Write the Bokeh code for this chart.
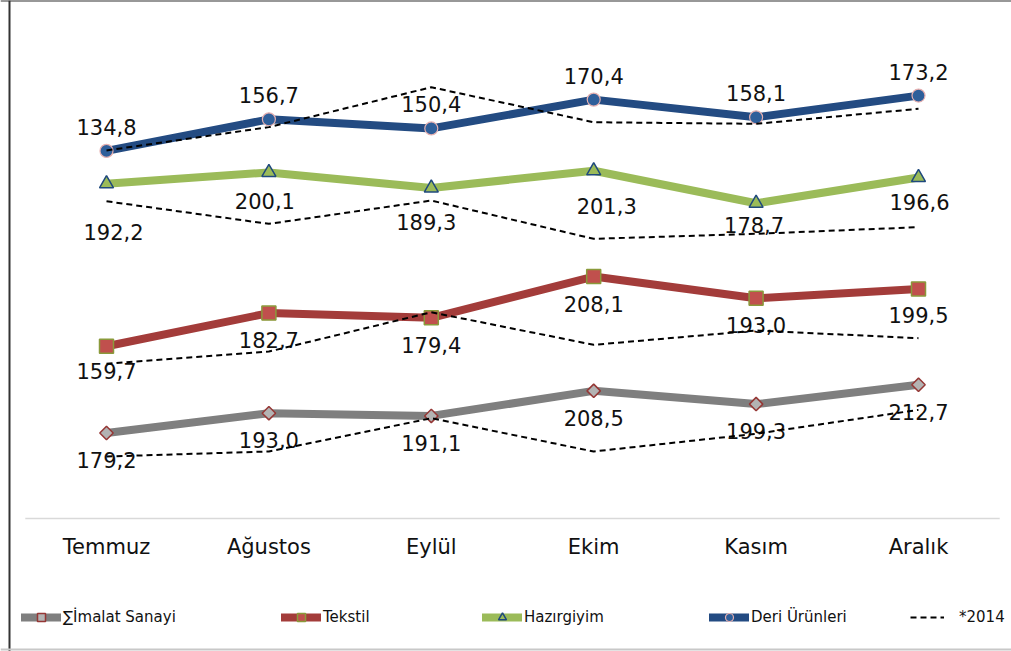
from bokeh.plotting import figure
from bokeh.models import Range1d, Legend, LegendItem, Span
from bokeh.core.properties import value
from bokeh.embed import file_html
from bokeh.resources import INLINE

# ---------------- data ----------------
months = ["Temmuz", "Ağustos", "Eylül", "Ekim", "Kasım", "Aralık"]

imalat_2015 = [179.2, 193.0, 191.1, 208.5, 199.3, 212.7]
tekstil_2015 = [159.7, 182.7, 179.4, 208.1, 193.0, 199.5]
hazir_2015 = [192.2, 200.1, 189.3, 201.3, 178.7, 196.6]
deri_2015 = [134.8, 156.7, 150.4, 170.4, 158.1, 173.2]

imalat_2014 = [162.9, 166.4, 189.5, 166.4, 178.7, 195.3]
tekstil_2014 = [147.5, 156.0, 183.3, 160.7, 170.6, 165.3]
hazir_2014 = [180.1, 164.4, 180.6, 154.0, 157.5, 162.1]
deri_2014 = [135.1, 151.3, 179.0, 154.7, 153.6, 164.0]

labels_2015 = {
    "imalat": ["179,2", "193,0", "191,1", "208,5", "199,3", "212,7"],
    "tekstil": ["159,7", "182,7", "179,4", "208,1", "193,0", "199,5"],
    "hazir": ["192,2", "200,1", "189,3", "201,3", "178,7", "196,6"],
    "deri": ["134,8", "156,7", "150,4", "170,4", "158,1", "173,2"],
}

# ---------------- layout ----------------
W, H = 1011, 651
K = 1.44            # pixels per index unit
X0, STEP = 106, 162.4
FONT = "DejaVu Sans"

xs = list(range(len(months)))

p = figure(width=W, height=H,
           x_range=Range1d(-X0 / STEP, (W - X0) / STEP),
           y_range=Range1d(H, 0),
           output_backend="svg", toolbar_location=None, min_border=0,
           x_axis_location=None, y_axis_location=None,
           background_fill_color="white", border_fill_color="white",
           outline_line_color=None)
p.xgrid.visible = False
p.ygrid.visible = False

series = [
    dict(key="imalat", name="∑İmalat Sanayi", v15=imalat_2015, v14=imalat_2014, anchor=690.6,
         line="#7f7f7f", marker="square", angle=0.785, size=9.5, fill="#b3b3b3", mline="#953735", mlw=1.5,
         dy=[27] * 6, dx=[0] * 6, leg_x=21),
    dict(key="tekstil", name="Tekstil", v15=tekstil_2015, v14=tekstil_2014, anchor=575.7,
         line="#a33c3a", marker="square", angle=0.0, size=14, fill="#c0504d", mline="#8a9a3b", mlw=1.5,
         dy=[25, 27, 27, 27, 27, 26], dx=[0] * 6, leg_x=281),
    dict(key="hazir", name="Hazırgiyim", v15=hazir_2015, v14=hazir_2014, anchor=460.1,
         line="#9bbb59", marker="triangle", angle=0.0, size=14, fill="#9bbb59", mline="#1f497d", mlw=1.5,
         dy=[48, 29, 34, 35, 22, 25], dx=[7, -4, -5, 13, -2, 1], leg_x=482),
    dict(key="deri", name="Deri Ürünleri", v15=deri_2015, v14=deri_2014, anchor=344.5,
         line="#234b82", marker="circle", angle=0.0, size=13, fill="#2f5f9a", mline="#e6b0b0", mlw=1.2,
         dy=[-24] * 6, dx=[0] * 6, leg_x=709),
]

for s in series:
    p.extra_y_ranges[s["key"]] = Range1d((s["anchor"] - H) / K, s["anchor"] / K)

# baseline (category axis line) and category labels
p.segment(x0=[-0.5], x1=[len(months) - 0.5], y0=[518], y1=[518], line_color="#d9d9d9", line_width=1.5)
p.text(x=xs, y=[546] * len(months), text=months, text_font=value(FONT), text_font_size="21px",
       text_color="#111111", text_align="center", text_baseline="middle")

legends = []
for s in series:
    rn = s["key"]
    ln = p.line(xs, s["v15"], y_range_name=rn, line_color=s["line"], line_width=8,
                line_cap="round", line_join="round")
    mk = p.scatter(xs, s["v15"], y_range_name=rn, marker=s["marker"], angle=s["angle"], size=s["size"],
                   fill_color=s["fill"], line_color=s["mline"], line_width=s["mlw"])
    p.text(x=xs, y=s["v15"], y_range_name=rn, text=labels_2015[rn], x_offset=s["dx"], y_offset=s["dy"],
           text_font=value(FONT), text_font_size="21px", text_color="#111111",
           text_align="center", text_baseline="middle")
    legends.append((s["leg_x"], s["name"], [ln, mk], 40, 2))

dash_r = None
for s in series:
    dash_r = p.line(xs, s["v14"], y_range_name=s["key"], line_color="black", line_width=2, line_dash="6 4")
legends.append((910, "*2014", [dash_r], 34, 15))

for lx, name, rends, gw, so in legends:
    leg = Legend(items=[LegendItem(label=name, renderers=rends)], location=(lx, 24),
                 border_line_color=None, background_fill_alpha=0, padding=0, margin=0, spacing=0,
                 glyph_width=gw, glyph_height=20, label_standoff=so, label_height=20,
                 label_text_font=FONT, label_text_font_size="15px", label_text_color="#111111")
    p.add_layout(leg)

# frame borders
p.add_layout(Span(location=(9 - X0) / STEP, dimension="height", line_color="#333333", line_width=2))
p.add_layout(Span(location=0, dimension="width", line_color="#333333", line_width=2))
p.add_layout(Span(location=H - 2, dimension="width", line_color="#c8c8c8", line_width=2))

open("out.html", "w").write(file_html(p, INLINE))
